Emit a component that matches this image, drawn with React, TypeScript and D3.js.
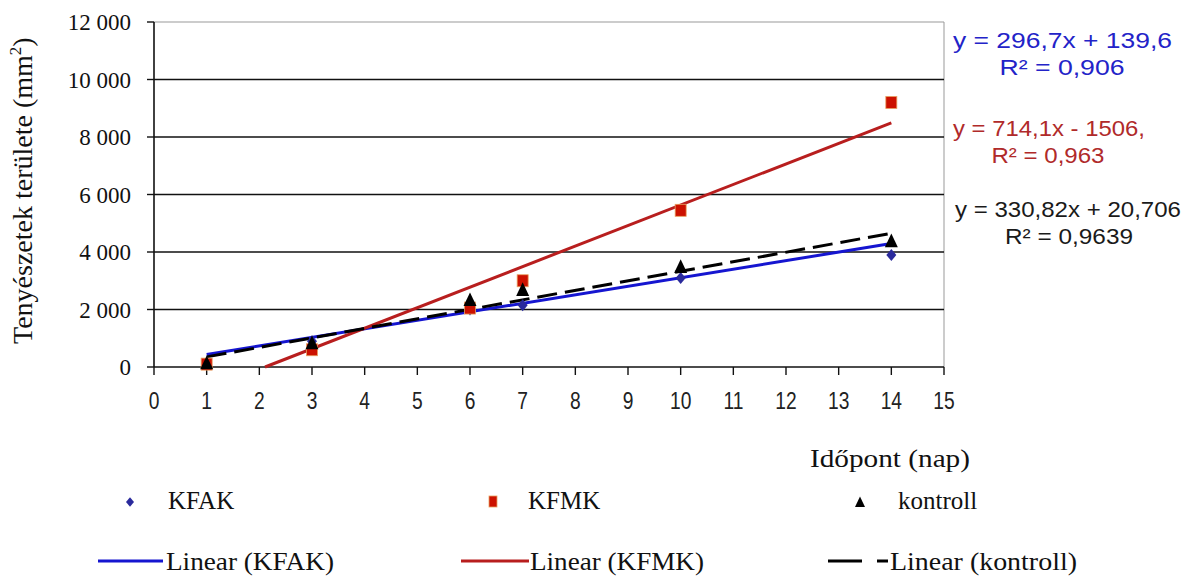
import React from "react";
import * as d3 from "d3";

const days = [1, 3, 6, 7, 10, 14];
const kfak = [100, 900, 2000, 2150, 3100, 3900];
const kfmk = [100, 600, 2050, 3000, 5450, 9200];
const kontroll = [100, 800, 2300, 2650, 3450, 4350];

const xTicks = [0, 1, 2, 3, 4, 5, 6, 7, 8, 9, 10, 11, 12, 13, 14, 15];
const yTicks = [0, 2000, 4000, 6000, 8000, 10000, 12000];
const yTickLabels = ["0", "2 000", "4 000", "6 000", "8 000", "10 000", "12 000"];

const trendNames = ["KFAK", "KFMK", "kontroll"];
const slopes = [296.7, 714.1, 330.82];
const intercepts = [139.6, -1506, 20.706];
const eqTexts = ["y = 296,7x  + 139,6", "y = 714,1x - 1506,", "y = 330,82x  + 20,706"];
const r2Texts = ["R² = 0,906", "R² = 0,963", "R² = 0,9639"];

const W = 1190;
const H = 576;

const SERIF = { fontFamily: "Liberation Serif" };
const SANS = { fontFamily: "Liberation Sans" };

export default function App() {
  const x = d3.scaleLinear().domain([0, 15]).range([154, 944]);
  const y = d3.scaleLinear().domain([0, 12000]).range([367, 22]);

  const colors = ["#1515d0", "#b81e1e", "#000000"];
  const eqColors = ["#2323c8", "#b02a2a", "#1a1a1a"];

  const line = d3
    .line<[number, number]>()
    .x((d) => x(d[0]))
    .y((d) => y(d[1]));

  const trendPath = (i: number) => {
    const m = slopes[i];
    const b = intercepts[i];
    const x0 = Math.max(days[0], -b / m);
    const x1 = days[days.length - 1];
    return line([
      [x0, m * x0 + b],
      [x1, m * x1 + b],
    ]) as string;
  };

  const diamond = (cx: number, cy: number, s = 5) =>
    `M${cx},${cy - s * 1.2}L${cx + s},${cy}L${cx},${cy + s * 1.2}L${cx - s},${cy}Z`;
  const triangle = (cx: number, cy: number, s = 6) =>
    `M${cx},${cy - s * 1.3}L${cx + s},${cy + s * 0.8}L${cx - s},${cy + s * 0.8}Z`;

  const eqY = [40, 128, 209];
  const eqX = [953, 953, 955];
  const eqW = [219, 192, 226];
  const r2Cx = [1062, 1048, 1069];
  const r2W = [125, 113, 128];

  const legLineX = [98, 461];
  const legTextX = [166, 530, 890];
  const legTextW = [168, 174, 187];

  return (
    <svg width={W} height={H} style={{ position: "absolute", left: 0, top: 0, background: "#fff" }}>
      <rect x={0} y={0} width={W} height={H} fill="#fff" />
      <line x1={x(0)} x2={x(15)} y1={y(12000)} y2={y(12000)} stroke="#999" strokeWidth={1} />
      <line x1={x(15)} x2={x(15)} y1={y(12000)} y2={y(0)} stroke="#999" strokeWidth={1} />
      {yTicks
        .filter((t) => t > 0 && t < 12000)
        .map((t) => (
          <line key={t} x1={x(0)} x2={x(15)} y1={y(t)} y2={y(t)} stroke="#111" strokeWidth={1.6} />
        ))}
      <line x1={x(0)} x2={x(0)} y1={y(12000)} y2={y(0)} stroke="#111" strokeWidth={1.6} />
      <line x1={x(0)} x2={x(15)} y1={y(0)} y2={y(0)} stroke="#111" strokeWidth={1.6} />
      {yTicks.map((t, i) => (
        <g key={t}>
          <line x1={x(0) - 7} x2={x(0)} y1={y(t)} y2={y(t)} stroke="#111" strokeWidth={1.4} />
          <text x={131} y={y(t)} dy="0.35em" textAnchor="end" style={SERIF} fontSize={23} fill="#111">
            {yTickLabels[i]}
          </text>
        </g>
      ))}
      {xTicks.map((t) => (
        <g key={t}>
          <line x1={x(t)} x2={x(t)} y1={y(0)} y2={y(0) + 8} stroke="#111" strokeWidth={1.4} />
          <text
            transform={`translate(${x(t)},409) scale(0.8,1)`}
            textAnchor="middle"
            style={SANS}
            fontSize={24}
            fill="#222"
          >
            {t}
          </text>
        </g>
      ))}
      <text
        transform={`translate(32,180) rotate(-90)`}
        x={-164}
        style={SERIF}
        fontSize={28}
        fill="#111"
      >
        Tenyészetek  területe (mm
        <tspan fontSize={17} dy={-11}>2</tspan>
        <tspan dy={11}>)</tspan>
      </text>
      <text x={810} y={467} style={SERIF} fontSize={25} fill="#111" textLength={160} lengthAdjust="spacingAndGlyphs">
        Időpont (nap)
      </text>

      {[0, 1, 2].map((i) => (
        <path
          key={i}
          d={trendPath(i)}
          stroke={colors[i]}
          strokeWidth={3}
          fill="none"
          strokeDasharray={i === 2 ? "20,8" : undefined}
        />
      ))}

      {days.map((d, i) => (
        <path key={"a" + i} d={diamond(x(d), y(kfak[i]))} fill="#2a2a9c" />
      ))}
      {days.map((d, i) => (
        <rect
          key={"b" + i}
          x={x(d) - 5.5}
          y={y(kfmk[i]) - 6}
          width={11}
          height={12}
          fill="#cc1100"
          stroke="#e8a060"
          strokeWidth={0.8}
        />
      ))}
      {days.map((d, i) => (
        <path key={"c" + i} d={triangle(x(d), y(kontroll[i]), 6.5)} fill="#000" />
      ))}

      {[0, 1, 2].map((i) => (
        <g key={"eq" + i} fill={eqColors[i]}>
          <text
            x={eqX[i]}
            y={eqY[i]}
            dy="0.35em"
            style={SANS}
            fontSize={22}
            textLength={eqW[i]}
            lengthAdjust="spacingAndGlyphs"
          >
            {eqTexts[i]}
          </text>
          <text
            x={r2Cx[i] - r2W[i] / 2}
            y={eqY[i] + 27}
            dy="0.35em"
            style={SANS}
            fontSize={22}
            textLength={r2W[i]}
            lengthAdjust="spacingAndGlyphs"
          >
            {r2Texts[i]}
          </text>
        </g>
      ))}

      <path d={diamond(130, 502, 4)} fill="#2a2a9c" />
      <text x={168} y={509} style={SERIF} fontSize={25} fill="#111">
        {trendNames[0]}
      </text>
      <rect x={489} y={496} width={8} height={11} fill="#cc1100" stroke="#e8a060" strokeWidth={0.8} />
      <text x={528} y={509} style={SERIF} fontSize={25} fill="#111">
        {trendNames[1]}
      </text>
      <path d={triangle(860, 503, 5)} fill="#000" />
      <text x={898} y={509} style={SERIF} fontSize={25} fill="#111">
        {trendNames[2]}
      </text>

      <line x1={legLineX[0]} x2={163} y1={561} y2={561} stroke={colors[0]} strokeWidth={3} />
      <line x1={legLineX[1]} x2={529} y1={561} y2={561} stroke={colors[1]} strokeWidth={3} />
      <line x1={828} x2={888} y1={561} y2={561} stroke={colors[2]} strokeWidth={3} strokeDasharray="34,15" />
      {[0, 1, 2].map((i) => (
        <text
          key={"lt" + i}
          x={legTextX[i]}
          y={570}
          style={SERIF}
          fontSize={26}
          fill="#111"
          textLength={legTextW[i]}
          lengthAdjust="spacingAndGlyphs"
        >
          Linear ({trendNames[i]})
        </text>
      ))}
    </svg>
  );
}
